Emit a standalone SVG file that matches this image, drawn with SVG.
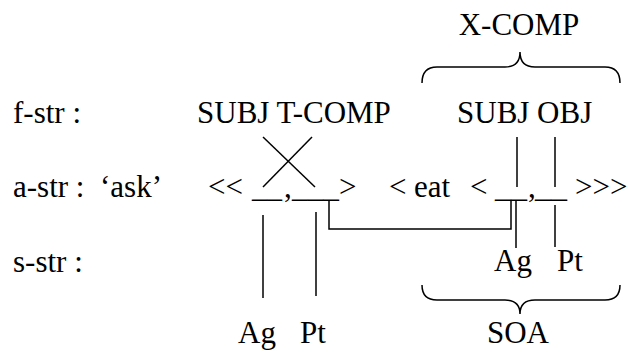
<svg xmlns="http://www.w3.org/2000/svg" width="628" height="352" viewBox="0 0 628 352">
<style>
text{font-size:31px;fill:#000}
.ln{stroke:#000;stroke-width:1.5;fill:none}
</style>
<rect width="628" height="352" fill="#fff"/>
<g font-family="'Liberation Serif', 'Times New Roman', 'DejaVu Serif', serif">
<g id="labels">
<text x="13" y="123">f-str :</text>
<text x="13" y="197">a-str :</text>
<text x="100" y="197">‘ask’</text>
<text x="13" y="272">s-str :</text>
</g>
<g id="xcomp">
<text x="519" y="35" text-anchor="middle">X-COMP</text>
<path class="ln" d="M422,83 Q422,67 437,67 L505,67 Q520,67 520,52 Q520,67 535,67 L605,67 Q620,67 620,83"/>
</g>
<g id="fstr-main">
<text x="197" y="123">SUBJ T-COMP</text>
</g>
<g id="fstr-xcomp">
<text x="457" y="123">SUBJ OBJ</text>
</g>
<g id="astr-ask">
<text x="208" y="197">&lt;&lt;</text>
<text x="252" y="197" textLength="30" lengthAdjust="spacingAndGlyphs">__</text>
<text x="284" y="197">,</text>
<text x="292" y="197" textLength="47" lengthAdjust="spacingAndGlyphs">___</text>
<text x="339" y="197">&gt;</text>
</g>
<g id="astr-eat">
<text x="389" y="197">&lt;</text>
<text x="414" y="197">eat</text>
<text x="470" y="197">&lt;</text>
<text x="495" y="197" textLength="32" lengthAdjust="spacingAndGlyphs">__</text>
<text x="528" y="197">,</text>
<text x="535" y="197" textLength="32" lengthAdjust="spacingAndGlyphs">__</text>
<text x="575" y="197">&gt;&gt;&gt;</text>
</g>
<g id="sstr-eat">
<text x="494" y="271">Ag</text>
<text x="557" y="271">Pt</text>
</g>
<g id="soa">
<path class="ln" d="M422,285 Q422,300 437,300 L505,300 Q520,300 520,314 Q520,300 535,300 L605,300 Q620,300 620,285"/>
<text x="518" y="343" text-anchor="middle">SOA</text>
</g>
<g id="sstr-ask">
<text x="238" y="343">Ag</text>
<text x="300" y="343">Pt</text>
</g>
</g>
<g id="connectors">
<line class="ln" x1="263" y1="137" x2="315" y2="187"/>
<line class="ln" x1="312" y1="137" x2="263" y2="187"/>
<line class="ln" x1="263" y1="215" x2="263" y2="298"/>
<line class="ln" x1="316" y1="212" x2="316" y2="296"/>
<polyline class="ln" points="329,200 329,229 511,229 511,200"/>
<line class="ln" x1="517" y1="137" x2="517" y2="187"/>
<line class="ln" x1="555" y1="137" x2="555" y2="187"/>
<line class="ln" x1="516" y1="200" x2="516" y2="248"/>
<line class="ln" x1="555" y1="205" x2="555" y2="247"/>
</g>
</svg>
